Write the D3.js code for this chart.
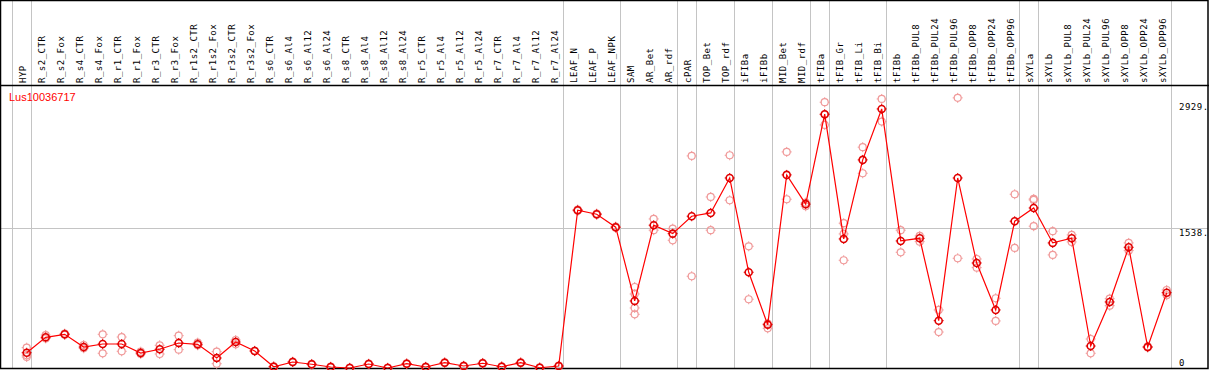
<!DOCTYPE html>
<html>
<head>
<meta charset="utf-8">
<script src="https://cdn.jsdelivr.net/npm/d3@7"></script>
<style>
  body { margin: 0; background: #fff; }
</style>
</head>
<body>
<div id="my_dataviz"></div>
<script>
// sample names (one column each)
var samples = ['HYP', 'R_s2_CTR', 'R_s2_Fox', 'R_s4_CTR', 'R_s4_Fox', 'R_r1_CTR', 'R_r1_Fox',
  'R_r3_CTR', 'R_r3_Fox', 'R_r1s2_CTR', 'R_r1s2_Fox', 'R_r3s2_CTR', 'R_r3s2_Fox',
  'R_s6_CTR', 'R_s6_Al4', 'R_s6_Al12', 'R_s6_Al24', 'R_s8_CTR', 'R_s8_Al4', 'R_s8_Al12', 'R_s8_Al24',
  'R_r5_CTR', 'R_r5_Al4', 'R_r5_Al12', 'R_r5_Al24', 'R_r7_CTR', 'R_r7_Al4', 'R_r7_Al12', 'R_r7_Al24',
  'LEAF_N', 'LEAF_P', 'LEAF_NPK', 'SAM', 'AR_Bet', 'AR_rdf', 'cPAR', 'TOP_Bet', 'TOP_rdf',
  'iFIBa', 'iFIBb', 'MID_Bet', 'MID_rdf', 'tFIBa', 'tFIB_Gr', 'tFIB_Li', 'tFIB_Bi',
  'tFIBb', 'tFIBb_PUL8', 'tFIBb_PUL24', 'tFIBb_PUL96', 'tFIBb_OPP8', 'tFIBb_OPP24', 'tFIBb_OPP96',
  'sXYLa', 'sXYLb', 'sXYLb_PUL8', 'sXYLb_PUL24', 'sXYLb_PUL96', 'sXYLb_OPP8', 'sXYLb_OPP24', 'sXYLb_OPP96']

// mean expression per sample
var means = [168, 338, 371, 231, 264, 264, 165, 206, 275, 261, 110, 286, 187,
  14, 66, 41, 11, 0, 44, 0, 47, 11, 58, 22, 52, 14, 58, 3, 22,
  1737, 1693, 1550, 738, 1572, 1479, 1671, 1707, 2092,
  1054, 477, 2126, 1804, 2794, 1421, 2291, 2852,
  1399, 1428, 521, 2092, 1156, 639, 1616,
  1762, 1377, 1428, 242, 727, 1329, 231, 829]

// replicate values per sample
var reps = [[224, 140, 121], [363, 326], [365, 378], [253, 217], [371, 162], [341, 184], [180, 154],
  [250, 154], [356, 202], [279, 250], [180, 47], [308, 261], [185, 190],
  [10, 18], [62, 70], [37, 45], [7, 15], [0, 4], [40, 48], [0, 4], [43, 51],
  [7, 15], [54, 62], [18, 26], [48, 56], [10, 18], [54, 62], [0, 6], [18, 26],
  [1730, 1744], [1686, 1700], [1543, 1557], [892, 815, 661, 591], [1641, 1517], [1534, 1406],
  [2335, 1010], [1883, 1517], [2342, 1847], [1340, 757], [488, 437], [2379, 1858], [1820, 1781],
  [2926, 2676, 2790], [1594, 1476, 1186], [2431, 2144], [2962, 2713],
  [1517, 1274], [1454, 1391], [639, 396], [2974, 1208], [1200, 1105], [768, 518], [1913, 1322],
  [1861, 1850, 1561], [1506, 1245], [1465, 1388], [319, 162], [763, 686], [1377, 1292],
  [225, 237], [859, 801]]

// index of the last sample in each group (-1 = left edge)
var groupEnds = [-1, 0, 28, 31, 34, 35, 37, 39, 41, 42, 45, 52, 53, 60]

var tickValues = [0, 1538, 2929]
var tickLabels = ['0', '1538.', '2929.']
var gridValues = [1538]
var geneName = 'Lus10036717'

var width = 1209, height = 370
var headerY = 85.5, bottomY = 368.5

var svg = d3.select("#my_dataviz")
  .append("svg")
  .attr("width", width)
  .attr("height", height)

// x positions, one per sample
var x = d3.scalePoint()
  .domain(samples)
  .range([26.7, 1166.7])

var y = d3.scaleLinear()
  .domain([0, 1538])
  .range([368, 228.3])

function sepX(k) {
  return (k < 0 ? x(samples[0]) - x.step() : x(samples[k])) + 4
}

// horizontal grid
svg.selectAll(".grid")
  .data(gridValues)
  .enter()
  .append("line")
  .attr("x1", 1).attr("x2", width - 1)
  .attr("y1", function(d) { return Math.round(y(d)) + 0.5 })
  .attr("y2", function(d) { return Math.round(y(d)) + 0.5 })
  .style("stroke", "#c4c4c4")
  .style("stroke-width", 1)

// group separators
svg.selectAll(".sep")
  .data(groupEnds)
  .enter()
  .append("line")
  .attr("x1", function(d) { return Math.round(sepX(d)) + 0.5 })
  .attr("x2", function(d) { return Math.round(sepX(d)) + 0.5 })
  .attr("y1", 0).attr("y2", bottomY)
  .style("stroke", "#c4c4c4")
  .style("stroke-width", 1)

// frame
svg.append("rect")
  .attr("x", 0.5).attr("y", 0.5)
  .attr("width", width - 1.5).attr("height", bottomY - 0.5)
  .style("fill", "none")
  .style("stroke", "#000")
  .style("stroke-width", 1.5)
svg.append("line")
  .attr("x1", 0).attr("x2", width)
  .attr("y1", headerY).attr("y2", headerY)
  .style("stroke", "#000")
  .style("stroke-width", 1.5)

// rotated sample labels
svg.selectAll(".lab")
  .data(samples)
  .enter()
  .append("text")
  .attr("transform", function(d) { return "translate(" + (x(d) - 1) + "," + 83 + ") rotate(-90)" })
  .attr("text-anchor", "start")
  .style("font-family", "'DejaVu Sans Mono', monospace")
  .style("font-size", "9px")
  .style("letter-spacing", "0.5px")
  .style("fill", "#000")
  .text(function(d) { return d })

// right-hand value labels
svg.selectAll(".tick")
  .data(tickValues)
  .enter()
  .append("text")
  .attr("x", 1179)
  .attr("y", function(d) { return Math.min(y(d) + 8, 365.5) })
  .style("font-family", "'DejaVu Sans Mono', monospace")
  .style("font-size", "9px")
  .style("letter-spacing", "0.5px")
  .style("fill", "#000")
  .text(function(d, i) { return tickLabels[i] })

// gene name
svg.append("text")
  .attr("x", 9)
  .attr("y", 101)
  .style("font-family", "'Liberation Sans', Arial, sans-serif")
  .style("font-size", "11px")
  .style("fill", "#f00")
  .text(geneName)

// little circle with four ticks, like the original marker
function marker(g, cx, cy, color, sw) {
  g.append("circle")
    .attr("cx", cx).attr("cy", cy).attr("r", 3.5)
    .style("fill", "none")
    .style("stroke", color)
    .style("stroke-width", sw)
  var t = [[0, -1], [0, 1], [-1, 0], [1, 0]]
  t.forEach(function(p) {
    g.append("line")
      .attr("x1", cx + p[0] * 3.5).attr("y1", cy + p[1] * 3.5)
      .attr("x2", cx + p[0] * 5).attr("y2", cy + p[1] * 5)
      .style("stroke", color)
      .style("stroke-width", 1)
  })
}

// replicates
var repG = svg.append("g")
samples.forEach(function(s, i) {
  reps[i].forEach(function(v) {
    marker(repG, x(s), y(v), "#f09a9a", 1.2)
  })
})

// mean line
var line = d3.line()
  .x(function(d, i) { return x(samples[i]) })
  .y(function(d) { return y(d) })
svg.append("path")
  .datum(means)
  .attr("d", line)
  .style("fill", "none")
  .style("stroke", "#f00")
  .style("stroke-width", 1.2)

// means
var meanG = svg.append("g")
samples.forEach(function(s, i) {
  marker(meanG, x(s), y(means[i]), "#e00000", 1.6)
})
</script>
</body>
</html>
